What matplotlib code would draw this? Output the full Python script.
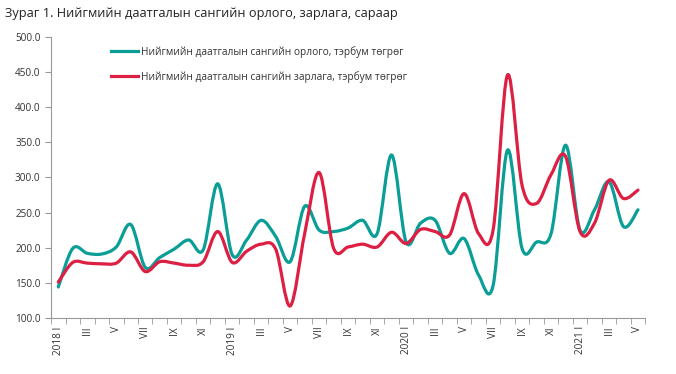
import numpy as np
import matplotlib
matplotlib.use("Agg")
import matplotlib.pyplot as plt
from matplotlib.path import Path
from matplotlib.patches import PathPatch

plt.rcParams['font.family'] = ['Open Sans', 'DejaVu Sans']

# monthly data, 2018 I .. 2021 V
years = [2018, 2019, 2020, 2021]
roman = ["I", "II", "III", "IV", "V", "VI", "VII", "VIII", "IX", "X", "XI", "XII"]

income = [144, 199, 192, 191, 201, 233, 172, 186, 198, 211, 197, 291,
          190, 211, 239, 216, 180, 259, 225, 223, 228, 239, 220, 332,
          208, 235, 239, 192, 213, 161, 146, 339, 199, 208, 220, 346,
          225, 254, 294, 230, 254]
expense = [151, 179, 178, 177, 178, 194, 166, 180, 178, 175, 180, 223,
           179, 195, 205, 198, 117, 220, 307, 199, 201, 205, 201, 222,
           206, 226, 223, 218, 277, 220, 225, 446, 289, 263, 304, 330,
           223, 235, 296, 270, 282]

labels = []
for k in range(len(income)):
    y = years[0] + k // 12
    m = k % 12
    if m == 0:
        labels.append(f"{y} I")
    elif m % 2 == 0:
        labels.append(roman[m])
    else:
        labels.append("")


def smooth_path(x, y):
    # Excel-like smoothed line as cubic Bezier segments
    x = np.asarray(x, float)
    y = np.asarray(y, float)
    pts = np.column_stack([x, y])
    n = len(pts)
    verts = [pts[0]]
    codes = [Path.MOVETO]
    for i in range(n - 1):
        p0 = pts[i - 1] if i > 0 else pts[i]
        p1 = pts[i]
        p2 = pts[i + 1]
        p3 = pts[i + 2] if i + 2 < n else pts[i + 1]
        c1 = p1 + (p2 - p0) / 6.0
        c2 = p2 - (p3 - p1) / 6.0
        verts += [c1, c2, p2]
        codes += [Path.CURVE4] * 3
    return Path(verts, codes)


teal = "#0a9e96"
red = "#dc1f43"

fig = plt.figure(figsize=(6.76, 3.74), dpi=100)
ax = fig.add_axes([0.0755, 0.150, 0.879, 0.751])

x = np.arange(len(income))
for vals, col in [(income, teal), (expense, red)]:
    ax.add_patch(PathPatch(smooth_path(x, vals), fill=False, edgecolor=col,
                           lw=2.3, capstyle='round', joinstyle='round'))

# legend handles
ax.plot([], [], color=teal, lw=2.3,
        label="Нийгмийн даатгалын сангийн орлого, тэрбум төгрөг")
ax.plot([], [], color=red, lw=2.3,
        label="Нийгмийн даатгалын сангийн зарлага, тэрбум төгрөг")
ax.legend(loc='upper left', bbox_to_anchor=(0.085, 1.0), frameon=False,
          fontsize=7.3, handlelength=2.7, handletextpad=0.25,
          labelspacing=1.3, labelcolor='#333333')

ax.set_xlim(-0.5, len(income) - 0.5)
ax.set_ylim(100, 500)
ax.set_yticks(np.arange(100, 501, 50))
ax.set_yticklabels([f"{v:.1f}" for v in np.arange(100, 501, 50)])

ax.set_xticks(x)
ax.set_xticklabels(labels, rotation=90)
ax.set_xticks(np.arange(-0.5, len(income), 1), minor=True)
ax.tick_params(axis='x', which='major', length=0, pad=6, labelsize=7.2,
               colors='#333333')
ax.tick_params(axis='x', which='minor', length=4, color='#999999')
ax.tick_params(axis='y', length=4, color='#999999', labelsize=7.2,
               colors='#333333')

for s in ['top', 'right']:
    ax.spines[s].set_visible(False)
for s in ['left', 'bottom']:
    ax.spines[s].set_color('#999999')
    ax.spines[s].set_linewidth(0.8)

fig.text(0.008, 0.965, "Зураг 1. Нийгмийн даатгалын сангийн орлого, зарлага, сараар",
         fontsize=9.2, color='#222222', va='center')

fig.savefig("out.png", dpi=100)
